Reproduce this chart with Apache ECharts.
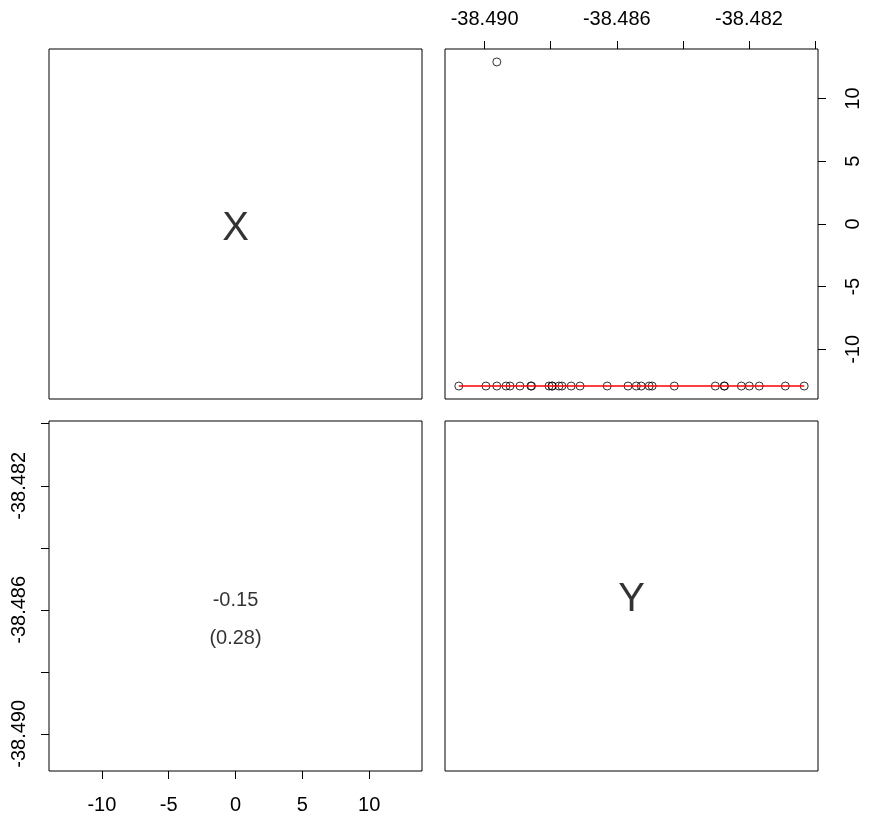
<!DOCTYPE html>
<html>
<head>
<meta charset="utf-8">
<script src="https://cdn.jsdelivr.net/npm/echarts@6/dist/echarts.min.js"></script>
<style>
  html, body { margin: 0; padding: 0; background: #fff; }
  #chart { width: 874px; height: 818px; }
</style>
</head>
<body>
<div id="chart"></div>
<script>
// Variable names shown on the diagonal panels
const varNames = ['X', 'Y'];

// Observations (one pair per row)
const yValues = [
  -38.49078, -38.48996, -38.48963, -38.48935, -38.48923, -38.48893,
  -38.48860, -38.48858, -38.48805, -38.48796, -38.48795, -38.48775,
  -38.48766, -38.48738, -38.48711, -38.48629, -38.48566, -38.48541,
  -38.48526, -38.48502, -38.48493, -38.48426, -38.48302, -38.48275,
  -38.48274, -38.48223, -38.48199, -38.48169, -38.48090, -38.48033,
  -38.48963
];
const xValues = [
  -12.92, -12.92, -12.92, -12.92, -12.92, -12.92,
  -12.92, -12.92, -12.92, -12.92, -12.92, -12.92,
  -12.92, -12.92, -12.92, -12.92, -12.92, -12.92,
  -12.92, -12.92, -12.92, -12.92, -12.92, -12.92,
  -12.92, -12.92, -12.92, -12.92, -12.92, -12.92,
  12.92
];

// Smoother through the scatter (panel.smooth)
const smoothY = [-38.49078, -38.48033];
const smoothX = [-12.92, -12.92];

// Correlation and p-value shown in the lower panel
const corrValue = -0.15;
const pValue = 0.28;

// Tick positions and labelled ticks
const xTicks = [-10, -5, 0, 5, 10];
const xTickLabels = [-10, -5, 0, 5, 10];
const yTicks = [-38.490, -38.488, -38.486, -38.484, -38.482, -38.480];
const yTickLabels = [-38.490, -38.486, -38.482];

// Axis limits with 4% padding, as in base graphics
function padRange(vals) {
  const lo = Math.min(...vals), hi = Math.max(...vals);
  const d = (hi - lo) * 0.04;
  return [lo - d, hi + d];
}
const xRange = padRange(xValues);
const yRange = padRange(yValues);

const FONT = '"Liberation Sans", Arial, sans-serif';
const labelStyle = { color: '#000', fontFamily: FONT, fontSize: 20 };

// Panel geometry
const colLeft = [49, 445], rowTop = [49, 421];
const panelW = 373, panelH = 350;

const grids = [];
for (let r = 0; r < 2; r++) {
  for (let c = 0; c < 2; c++) {
    grids.push({
      left: colLeft[c], top: rowTop[r], width: panelW, height: panelH,
      show: true, borderColor: '#000', borderWidth: 1, backgroundColor: 'transparent'
    });
  }
}

function hiddenAxis(gridIndex) {
  return { type: 'value', gridIndex, show: false, min: 0, max: 1 };
}

function tickAxis(gridIndex, position, range, ticks, labels, fmt, margin) {
  return {
    type: 'value', gridIndex, position,
    min: range[0], max: range[1],
    splitLine: { show: false },
    axisLine: { show: false, onZero: false },
    axisTick: { show: true, inside: false, length: 8, lineStyle: { color: '#000', width: 1 }, customValues: ticks },
    axisLabel: Object.assign({
      show: true, customValues: labels, margin,
      rotate: (position === 'left' || position === 'right') ? 90 : 0,
      formatter: fmt,
      hideOverlap: false
    }, labelStyle)
  };
}

const fmtY = v => Number(v).toFixed(3);
const fmtX = v => String(Math.round(v));

const textLabel = (txt, size) => ({
  show: true, position: 'inside', formatter: txt,
  color: '#000', fontFamily: FONT, fontSize: size
});

const option = {
  animation: false,
  backgroundColor: '#fff',
  grid: grids,
  xAxis: [
    hiddenAxis(0),
    tickAxis(1, 'top', yRange, yTicks, yTickLabels, fmtY, 20),
    tickAxis(2, 'bottom', xRange, xTicks, xTickLabels, fmtX, 24),
    hiddenAxis(3)
  ],
  yAxis: [
    hiddenAxis(0),
    tickAxis(1, 'right', xRange, xTicks, xTickLabels, fmtX, 25),
    tickAxis(2, 'left', yRange, yTicks, yTickLabels, fmtY, 20),
    hiddenAxis(3)
  ],
  series: [
    {
      type: 'scatter', xAxisIndex: 1, yAxisIndex: 1,
      data: yValues.map((y, i) => [y, xValues[i]]),
      symbol: 'circle', symbolSize: 8,
      itemStyle: { color: 'rgba(0,0,0,0)', borderColor: '#000', borderWidth: 1 },
      z: 2
    },
    {
      type: 'line', xAxisIndex: 1, yAxisIndex: 1,
      data: smoothY.map((y, i) => [y, smoothX[i]]),
      showSymbol: false, symbol: 'none',
      lineStyle: { color: '#ff0000', width: 1.5 },
      z: 3
    },
    // diagonal variable names
    {
      type: 'scatter', xAxisIndex: 0, yAxisIndex: 0,
      data: [[0.5, 0.486]], symbolSize: 0,
      label: textLabel(varNames[0], 40)
    },
    {
      type: 'scatter', xAxisIndex: 3, yAxisIndex: 3,
      data: [[0.5, 0.489]], symbolSize: 0,
      label: textLabel(varNames[1], 40)
    },
    // correlation text
    {
      type: 'scatter', xAxisIndex: 2, yAxisIndex: 2,
      data: [[0, -38.48571]], symbolSize: 0,
      label: textLabel(corrValue.toFixed(2), 20)
    },
    {
      type: 'scatter', xAxisIndex: 2, yAxisIndex: 2,
      data: [[0, -38.48691]], symbolSize: 0,
      label: textLabel('(' + pValue.toFixed(2) + ')', 20)
    }
  ]
};

const chart = echarts.init(document.getElementById('chart'), null, { renderer: 'canvas' });
chart.setOption(option);
</script>
</body>
</html>
